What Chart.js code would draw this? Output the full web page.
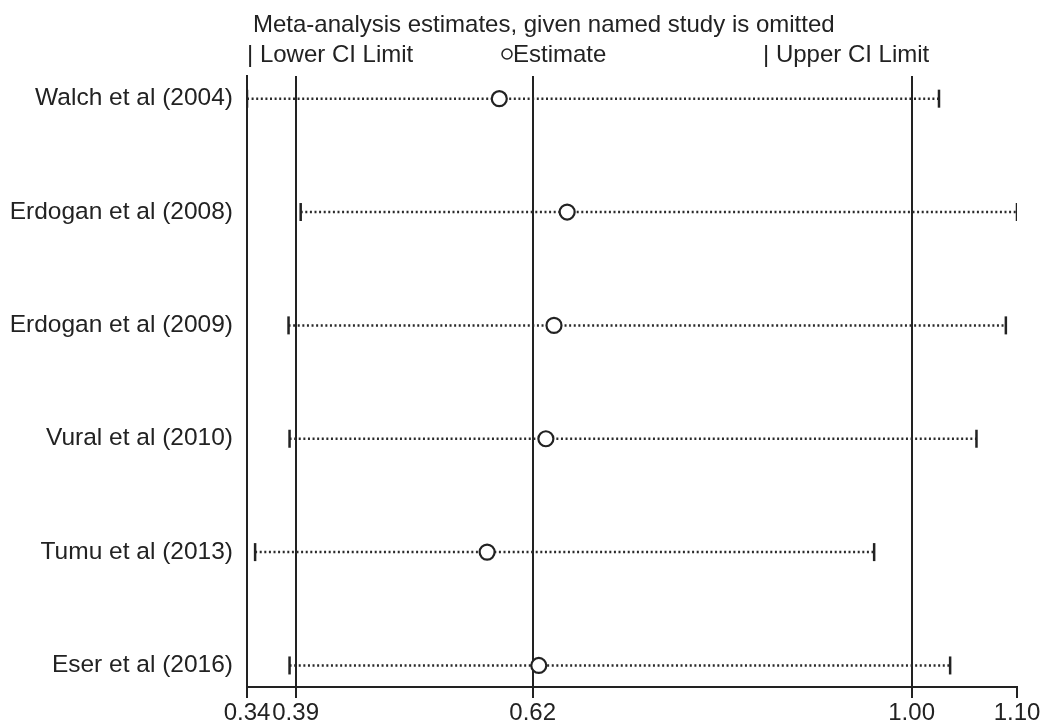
<!DOCTYPE html>
<html>
<head>
<meta charset="utf-8">
<script src="https://cdn.jsdelivr.net/npm/chart.js@4"></script>
<style>
  body { margin: 0; background: #fff; }
  #wrap { width: 1050px; height: 725px; }
</style>
</head>
<body>
<div id="wrap"><canvas id="chart" width="1050" height="725"></canvas></div>
<script>
const studies  = ['Walch et al (2004)', 'Erdogan et al (2008)', 'Erdogan et al (2009)',
                  'Vural et al (2010)', 'Tumu et al (2013)', 'Eser et al (2016)'];
const lowerCI  = [0.340, 0.393, 0.381, 0.382, 0.348, 0.382];
const estimate = [0.589, 0.656, 0.643, 0.635, 0.577, 0.628];
const upperCI  = [1.023, 1.100, 1.089, 1.060, 0.959, 1.034];

// pooled lower / estimate / upper (all studies), drawn as reference lines
const pooled   = [0.388, 0.622, 0.996];
const xTicks   = [0.34, 0.388, 0.622, 0.996, 1.10];

const titleText  = 'Meta-analysis estimates, given named study is omitted';
const FONT       = '"Liberation Sans", Arial, sans-serif';
const INK        = '#222';

const rows = studies.map((s, i) => i + 1);

const ciLines = studies.map((s, i) => ({
  type: 'line',
  data: [{ x: lowerCI[i], y: rows[i] }, { x: upperCI[i], y: rows[i] }],
  borderColor: '#2a2a2a',
  borderWidth: 2.5,
  borderDash: [2, 2.6],
  pointRadius: 0,
  order: 3
}));

const headerPlugin = {
  id: 'header',
  afterDraw(chart) {
    const ctx = chart.ctx;
    ctx.save();
    ctx.fillStyle = INK;
    ctx.font = '24px ' + FONT;
    ctx.textBaseline = 'alphabetic';
    ctx.textAlign = 'left';
    ctx.fillText(titleText, 253, 32);
    ctx.fillText('| Lower CI Limit', 247, 62);
    ctx.fillText('| Upper CI Limit', 763, 62);
    ctx.fillText('Estimate', 513, 62);
    ctx.beginPath();
    ctx.strokeStyle = INK;
    ctx.lineWidth = 1.5;
    ctx.arc(507, 54, 5, 0, Math.PI * 2);
    ctx.stroke();
    ctx.restore();
  }
};

new Chart(document.getElementById('chart'), {
  type: 'scatter',
  data: {
    datasets: [
      {
        label: 'Estimate',
        data: estimate.map((v, i) => ({ x: v, y: rows[i] })),
        pointStyle: 'circle',
        pointRadius: 7.5,
        borderWidth: 2.2,
        borderColor: INK,
        backgroundColor: '#fff',
        order: 0
      },
      {
        label: 'Lower CI Limit',
        data: lowerCI.map((v, i) => ({ x: v, y: rows[i] })),
        pointStyle: 'line',
        rotation: 90,
        pointRadius: 9,
        borderWidth: 2.5,
        borderColor: INK,
        order: 1
      },
      {
        label: 'Upper CI Limit',
        data: upperCI.map((v, i) => ({ x: v, y: rows[i] })),
        pointStyle: 'line',
        rotation: 90,
        pointRadius: 9,
        borderWidth: 2.5,
        borderColor: INK,
        order: 1
      },
      ...ciLines
    ]
  },
  options: {
    responsive: false,
    animation: false,
    layout: { padding: { left: 0, right: 33, top: 76, bottom: 0 } },
    plugins: {
      legend: { display: false },
      tooltip: { enabled: false }
    },
    scales: {
      x: {
        type: 'linear',
        min: 0.34,
        max: 1.10,
        afterBuildTicks: scale => { scale.ticks = xTicks.map(v => ({ value: v })); },
        afterFit: scale => { scale.height = 38; },
        border: { display: true, color: INK, width: 2 },
        grid: {
          color: c => pooled.includes(c.tick && c.tick.value) ? INK : 'rgba(0,0,0,0)',
          tickColor: INK,
          lineWidth: 2,
          tickLength: 11,
          drawOnChartArea: true
        },
        ticks: {
          autoSkip: false,
          maxRotation: 0,
          padding: 1,
          color: INK,
          font: { family: FONT, size: 24 },
          callback: v => Number(v).toFixed(2)
        }
      },
      y: {
        type: 'linear',
        reverse: true,
        min: 0.8,
        max: 6.19,
        afterBuildTicks: scale => { scale.ticks = rows.map(v => ({ value: v })); },
        afterFit: scale => { scale.width = 247; },
        border: { display: true, color: INK, width: 2 },
        grid: { display: false, drawTicks: false },
        ticks: {
          padding: 14,
          color: INK,
          font: { family: FONT, size: 24.5 },
          callback: v => studies[v - 1]
        }
      }
    }
  },
  plugins: [headerPlugin]
});
</script>
</body>
</html>
